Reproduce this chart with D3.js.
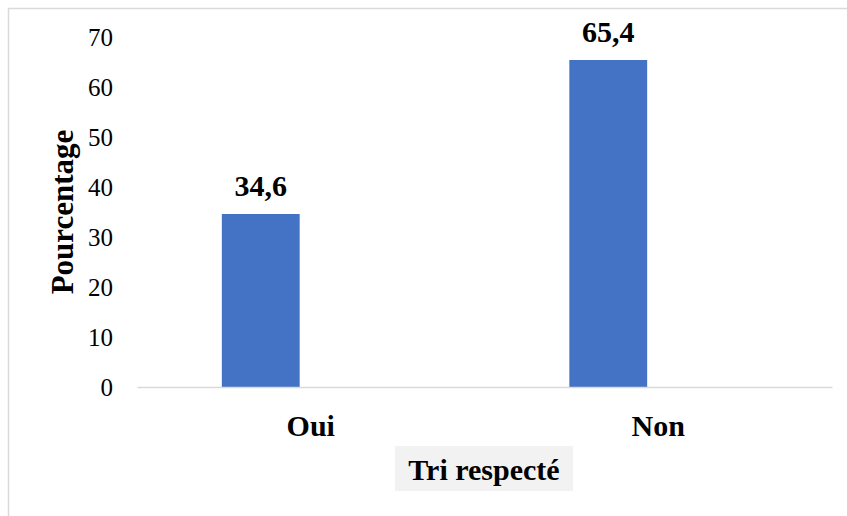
<!DOCTYPE html>
<html>
<head>
<meta charset="utf-8">
<script src="https://cdn.jsdelivr.net/npm/d3@7"></script>
<style>
  html, body { margin: 0; padding: 0; background: #fff; }
  svg { display: block; }
</style>
</head>
<body>
<svg id="chart" width="847" height="516"></svg>
<script>
const categories = ["Oui", "Non"];
const values = [34.6, 65.4];
const valueLabels = ["34,6", "65,4"];
const yTicks = [0, 10, 20, 30, 40, 50, 60, 70];
const yTitle = "Pourcentage";
const xTitle = "Tri respecté";

const svg = d3.select("#chart");
const font = "'Liberation Serif', 'Times New Roman', serif";

// chart border (cropped at right/bottom)
svg.append("rect")
  .attr("x", 8.5).attr("y", 8.5)
  .attr("width", 900).attr("height", 600)
  .attr("fill", "#fff").attr("stroke", "#d9d9d9").attr("stroke-width", 1.5);

const y = d3.scaleLinear().domain([0, 70]).range([387, 37]);
const xAxisScale = d3.scaleBand().domain(categories).range([137, 832]);
const xBars = d3.scaleBand().domain(categories).range([87, 782]).paddingInner(0.776).paddingOuter(0.388);

// y axis tick labels
const yAxis = d3.axisLeft(y).tickValues(yTicks).tickSize(0).tickPadding(0);
const gy = svg.append("g").attr("transform", "translate(113,0)").call(yAxis);
gy.select(".domain").remove();
gy.selectAll("text")
  .attr("font-family", font).attr("font-size", 25).attr("fill", "#000")
  .attr("dy", "0.34em");

// bars
svg.append("g").selectAll("rect").data(values).join("rect")
  .attr("x", (d, i) => xBars(categories[i]))
  .attr("width", xBars.bandwidth())
  .attr("y", d => y(d))
  .attr("height", d => y(0) - y(d))
  .attr("fill", "#4472C4");

// x axis
const xAxis = d3.axisBottom(xAxisScale).tickSize(0).tickPadding(0);
const gx = svg.append("g").attr("transform", "translate(0,387)").call(xAxis);
gx.select(".domain").attr("stroke", "#d9d9d9").attr("stroke-width", 1.5);
gx.selectAll("text")
  .attr("font-family", font).attr("font-size", 30).attr("font-weight", "bold").attr("fill", "#000")
  .attr("dy", null).attr("y", 49);

// value labels
svg.append("g").selectAll("text").data(values).join("text")
  .attr("x", (d, i) => xBars(categories[i]) + xBars.bandwidth() / 2)
  .attr("y", d => y(d) - 18)
  .attr("text-anchor", "middle")
  .attr("font-family", font).attr("font-size", 30).attr("font-weight", "bold")
  .text((d, i) => valueLabels[i]);

// y title
svg.append("text")
  .attr("transform", "translate(73,212) rotate(-90)")
  .attr("text-anchor", "middle")
  .attr("font-family", font).attr("font-size", 31).attr("font-weight", "bold")
  .text(yTitle);

// x title with grey box
svg.append("rect")
  .attr("x", 395).attr("y", 446).attr("width", 178).attr("height", 45)
  .attr("fill", "#f2f2f2");
svg.append("text")
  .attr("x", 484).attr("y", 480)
  .attr("text-anchor", "middle")
  .attr("font-family", font).attr("font-size", 30).attr("font-weight", "bold")
  .text(xTitle);
</script>
</body>
</html>
